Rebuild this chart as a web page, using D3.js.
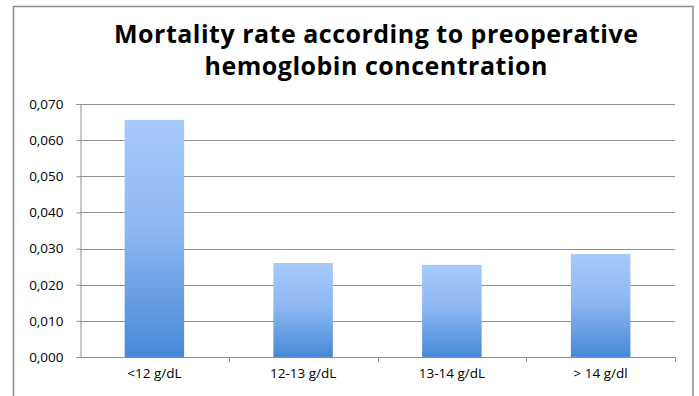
<!DOCTYPE html>
<html>
<head>
<meta charset="utf-8">
<script src="https://cdn.jsdelivr.net/npm/d3@7/dist/d3.min.js"></script>
<style>
  html, body { margin: 0; padding: 0; background: #fff; }
  svg { display: block; }
  text { font-family: "Open Sans", "Liberation Sans", sans-serif; fill: #000; }
</style>
</head>
<body>
<svg id="chart" width="699" height="396"></svg>
<script>
// Mortality rate by preoperative hemoglobin group
const categories = ["<12 g/dL", "12-13 g/dL", "13-14 g/dL", "> 14 g/dl"];
const mortality = [0.0656, 0.0260, 0.0255, 0.0285];
const yTicks = [0, 0.01, 0.02, 0.03, 0.04, 0.05, 0.06, 0.07];
const titleLines = ["Mortality rate according to preoperative", "hemoglobin concentration"];
const titleWidths = [524, 343];

const svg = d3.select("#chart");
const plot = { left: 80, right: 675, top: 104, bottom: 357 };

const locale = d3.formatLocale({ decimal: ",", thousands: ".", grouping: [3], currency: ["", ""] });
const fmt = locale.format(".3f");

const x = d3.scaleBand()
  .domain(categories)
  .range([plot.left, plot.right])
  .paddingInner(0.6)
  .paddingOuter(0.3);

const y = d3.scaleLinear()
  .domain([0, 0.07])
  .range([plot.bottom, plot.top]);

// bar fill: light blue at top fading to deeper blue at the base
const defs = svg.append("defs");
const grad = defs.append("linearGradient")
  .attr("id", "barFill")
  .attr("x1", 0).attr("y1", 0).attr("x2", 0).attr("y2", 1);
grad.append("stop").attr("offset", "0%").attr("stop-color", "#a7cafc");
grad.append("stop").attr("offset", "45%").attr("stop-color", "#8fb8f2");
grad.append("stop").attr("offset", "100%").attr("stop-color", "#4789d6");

// outer frame
svg.append("rect")
  .attr("x", 13.5).attr("y", 6.5)
  .attr("width", 679.5).attr("height", 400)
  .attr("fill", "none")
  .attr("stroke", "#8c8c8c")
  .attr("stroke-width", 1.5);

// title, two centred lines fitted to their set widths
const title = svg.append("g")
  .attr("font-weight", "bold")
  .attr("font-size", 25);
titleLines.forEach((t, i) => {
  title.append("text")
    .attr("x", 376)
    .attr("y", 43 + i * 32)
    .attr("text-anchor", "middle")
    .attr("textLength", titleWidths[i])
    .attr("lengthAdjust", "spacing")
    .text(t);
});

// horizontal gridlines
svg.append("g")
  .selectAll("line")
  .data(yTicks.filter(d => d > 0))
  .join("line")
  .attr("x1", plot.left).attr("x2", plot.right)
  .attr("y1", d => Math.round(y(d)) + 0.5)
  .attr("y2", d => Math.round(y(d)) + 0.5)
  .attr("stroke", "#8f8f8f")
  .attr("stroke-width", 1);

// y axis
const yAxis = svg.append("g")
  .attr("transform", `translate(${plot.left + 0.5},0)`)
  .call(d3.axisLeft(y).tickValues(yTicks).tickFormat(fmt).tickSize(4).tickPadding(13));
yAxis.select(".domain").attr("stroke", "#8f8f8f");
yAxis.selectAll(".tick line").attr("stroke", "#8f8f8f");
yAxis.selectAll(".tick text")
  .attr("font-size", 13.5)
  .attr("font-family", "'Open Sans', sans-serif")
  .attr("fill", "#000");

// bars
svg.append("g")
  .selectAll("rect")
  .data(categories.map((c, i) => ({ c, v: mortality[i] })))
  .join("rect")
  .attr("x", d => x(d.c))
  .attr("y", d => y(d.v))
  .attr("width", x.bandwidth())
  .attr("height", d => y(0) - y(d.v))
  .attr("fill", "url(#barFill)");

// x axis with ticks at category boundaries
const step = x.step();
const boundaries = d3.range(categories.length + 1).map(i => plot.left + i * step);
const xAxisG = svg.append("g");
xAxisG.append("line")
  .attr("x1", plot.left).attr("x2", plot.right)
  .attr("y1", plot.bottom + 0.5).attr("y2", plot.bottom + 0.5)
  .attr("stroke", "#8f8f8f");
xAxisG.selectAll("line.tick")
  .data(boundaries.slice(1))
  .join("line")
  .attr("class", "tick")
  .attr("x1", d => Math.round(d) + 0.5).attr("x2", d => Math.round(d) + 0.5)
  .attr("y1", plot.bottom).attr("y2", plot.bottom + 5)
  .attr("stroke", "#8f8f8f");
xAxisG.selectAll("text.cat")
  .data(categories)
  .join("text")
  .attr("class", "cat")
  .attr("x", d => x(d) + x.bandwidth() / 2)
  .attr("y", 378)
  .attr("text-anchor", "middle")
  .attr("font-size", 13.5)
  .text(d => d);
</script>
</body>
</html>
